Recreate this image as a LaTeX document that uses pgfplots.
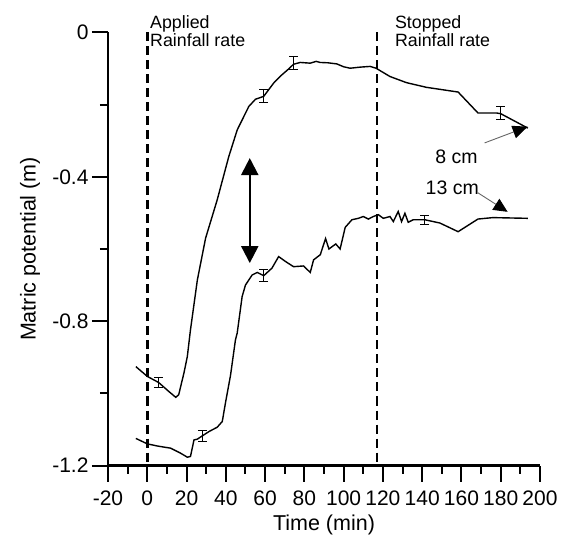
\documentclass[border=0pt]{standalone}
\usepackage{fontspec}
\setmainfont{Liberation Sans}
\usepackage{pgfplots}
\pgfplotsset{compat=1.18}
\usetikzlibrary{arrows.meta}

\begin{document}
\begin{tikzpicture}[font=\fontsize{17.8bp}{21bp}\selectfont]
\path[use as bounding box] (-108bp,-70.5bp) rectangle (457bp,465.5bp);
\begin{axis}[
  at={(0,0)}, anchor=south west,
  scale only axis, width=432bp, height=433bp,
  xmin=-20, xmax=200, ymin=-1.2, ymax=0,
  axis lines*=left,
  axis line style={line width=2.2bp, black},
  tick align=outside,
  major tick length=16bp, minor tick length=8bp,
  tick style={line width=2bp, black},
  tick label style={font=\fontsize{21bp}{24bp}\selectfont},
  label style={font=\fontsize{21.5bp}{24bp}\selectfont},
  xticklabel shift=6bp,
  xtick={-20,0,20,40,60,80,100,120,140,160,180,200},
  xticklabels={-20,0,20,40,60,80,100,120,140,160,180,200},
  minor xtick={-10,10,30,50,70,90,110,130,150,170,190},
  ytick={-1.2,-0.8,-0.4,0},
  yticklabels={-1.2,-0.8,-0.4,0},
  minor ytick={-1,-0.6,-0.2},
  xlabel={Time (min)}, ylabel={Matric potential (m)},
  x label style={at={(axis description cs:0.5,-0.137)}, anchor=center},
  y label style={at={(axis description cs:-0.1806,0.5)}, anchor=center},
  clip=false,
  /pgf/number format/assume math mode=true,
]
% 8 cm
\addplot[black, line width=1.4bp] coordinates {
(-5.8,-0.926) (0,-0.953) (5.8,-0.970) (11,-0.995) (14.5,-1.011) (16,-1.004)
(18.7,-0.943) (20.4,-0.898) (22,-0.824) (25.5,-0.686) (29.7,-0.570) (35.6,-0.464)
(41.5,-0.344) (45.8,-0.270) (51.7,-0.205) (55.1,-0.185) (59.3,-0.177) (64.4,-0.140)
(68,-0.120) (72,-0.101) (74.5,-0.088) (77.9,-0.083) (83,-0.085) (86,-0.080)
(88,-0.083) (92,-0.084) (96.5,-0.087) (100,-0.095) (103.3,-0.099) (108.4,-0.096)
(113.5,-0.094) (116.5,-0.099) (123.6,-0.122) (132,-0.139) (142.2,-0.152)
(158.3,-0.165) (168.4,-0.223) (177.8,-0.223) (180,-0.225) (193.8,-0.265)
};
% 13 cm
\addplot[black, line width=1.4bp] coordinates {
(-5.8,-1.125) (0,-1.140) (5.2,-1.146) (11.9,-1.152) (17,-1.166) (20.4,-1.177)
(22,-1.175) (23.8,-1.129) (25.5,-1.127) (28,-1.118) (31.4,-1.106) (35.6,-1.094)
(38.2,-1.078) (39.8,-1.027) (42.4,-0.950) (44.9,-0.852) (45.8,-0.833) (48.3,-0.732)
(50,-0.700) (53.4,-0.672) (56,-0.665) (59.3,-0.674) (63.5,-0.653) (66.9,-0.621)
(70.5,-0.635) (74.5,-0.649) (79.6,-0.647) (83,-0.665) (84.7,-0.630) (88.1,-0.616)
(90.8,-0.571) (92.5,-0.600) (96,-0.586) (98.2,-0.600) (100.8,-0.540) (104.2,-0.519)
(107.5,-0.515) (110,-0.510) (112.6,-0.517) (115.1,-0.510) (117.7,-0.505)
(120.2,-0.515) (123.6,-0.510) (125.3,-0.524) (127.8,-0.496) (129.5,-0.524)
(131.2,-0.501) (132.9,-0.526) (135.4,-0.519) (141.4,-0.519) (149,-0.528)
(158.3,-0.552) (168.4,-0.517) (176,-0.513) (193.8,-0.515)
};
% error bars
\addplot[draw=none, mark=none,
  error bars/.cd, y dir=both, y explicit,
  error bar style={draw=black, line width=1.1bp},
  error mark options={rotate=90, draw=black, mark size=4.5bp, line width=1.1bp}] coordinates {
(5.8,-0.970) +- (0,0.015)
(59.3,-0.177) +- (0,0.018)
(74.5,-0.085) +- (0,0.018)
(180,-0.223) +- (0,0.018)
(28,-1.118) +- (0,0.015)
(59.3,-0.674) +- (0,0.016)
(141.4,-0.519) +- (0,0.013)
};
% rainfall markers
\addplot[black, line width=2.9bp, dash pattern=on 9bp off 5bp] coordinates {(0,0) (0,-1.2)};
\addplot[black, line width=2.9bp, dash pattern=on 9bp off 5bp] coordinates {(117,0) (117,-1.2)};

\node[anchor=base west, inner sep=0] at (axis cs:1.4,0.0122) {Applied};
\node[anchor=base west, inner sep=0] at (axis cs:1.4,-0.0388) {Rainfall rate};
\node[anchor=base west, inner sep=0] at (axis cs:126.1,0.0122) {Stopped};
\node[anchor=base west, inner sep=0] at (axis cs:126.1,-0.0388) {Rainfall rate};

\draw[line width=2.2bp, {Triangle[length=17bp,width=17bp]}-{Triangle[length=17bp,width=17bp]}]
  (axis cs:52.2,-0.348) -- (axis cs:52.2,-0.639);

\node[inner sep=0, font=\fontsize{19.5bp}{22bp}\selectfont] at (axis cs:157.5,-0.344) {8 cm};
\node[inner sep=0, font=\fontsize{19.5bp}{22bp}\selectfont] at (axis cs:155.3,-0.429) {13 cm};
\draw[black!60, line width=0.9bp, -{Triangle[length=15bp,width=13bp,color=black]}]
  (axis cs:171.8,-0.306) -- (axis cs:193.7,-0.261);
\draw[black!60, line width=0.9bp, -{Triangle[length=14bp,width=13bp,color=black]}]
  (axis cs:168.3,-0.444) -- (axis cs:183.5,-0.497);
\end{axis}
\end{tikzpicture}
\end{document}
